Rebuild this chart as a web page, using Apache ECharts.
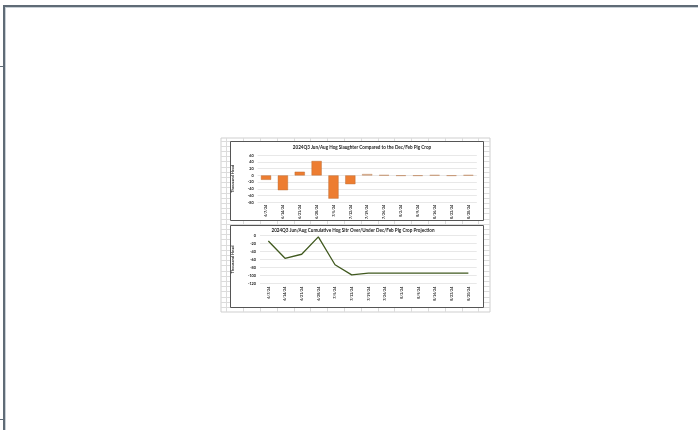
<!DOCTYPE html>
<html>
<head>
<meta charset="utf-8">
<script src="https://cdn.jsdelivr.net/npm/echarts@6/dist/echarts.min.js"></script>
<style>
html,body{margin:0;padding:0;background:#fff;}
#c{width:698px;height:430px;}
</style>
</head>
<body>
<div id="c"></div>
<script>
const categories = ['6/7/24','6/14/24','6/21/24','6/28/24','7/5/24','7/12/24','7/19/24','7/26/24','8/2/24','8/9/24','8/16/24','8/23/24','8/30/24'];
const weeklyDiff = [-13, -44, 11, 43, -69, -26, 4, 1, -1, -1, 1, -1, 1];
const cumulativeDiff = [-14, -57, -47, -4, -73, -98, -94, -94, -94, -94, -94, -94, -94];
const actualWeeks = 6;
const topTitle = '2024Q3 Jun/Aug Hog Slaughter Compared to the Dec/Feb Pig Crop';
const bottomTitle = '2024Q3 Jun/Aug Cumulative Hog Sltr Over/Under Dec/Feb Pig Crop Projection';
const yName = 'Thousand Head';

const FONT = 'Lato, "Liberation Sans", sans-serif';
const TXT = '#1a1a1a';

// spreadsheet cell gridlines (decoration)
const sheet = {x0: 221, x1: 490, y0: 138, y1: 312};
const deco = [];
deco.push({type:'rect', z:-20, shape:{x:sheet.x0, y:sheet.y0, width:sheet.x1-sheet.x0, height:sheet.y1-sheet.y0}, style:{fill:'#fff', stroke:'#cfcfcf', lineWidth:1}});
for (let y = sheet.y0 + 2.6; y < sheet.y1; y += 5.2) {
  deco.push({type:'line', z:-19, shape:{x1:sheet.x0, y1:Math.round(y)+0.5, x2:sheet.x1, y2:Math.round(y)+0.5}, style:{stroke:'#dcdcdc', lineWidth:1}});
}
for (let x = 226.4; x < sheet.x1; x += 16.8) {
  deco.push({type:'line', z:-19, shape:{x1:Math.round(x)+0.5, y1:sheet.y0, x2:Math.round(x)+0.5, y2:sheet.y1}, style:{stroke:'#dcdcdc', lineWidth:1}});
}
// chart boxes
deco.push({type:'rect', z:-10, shape:{x:230.5, y:141.5, width:253, height:79}, style:{fill:'#fff', stroke:'#555', lineWidth:1}});
deco.push({type:'rect', z:-10, shape:{x:230.5, y:225.5, width:253, height:82}, style:{fill:'#fff', stroke:'#555', lineWidth:1}});
// page frame
deco.push({type:'rect', z:-5, shape:{x:3, y:5, width:695, height:2}, style:{fill:'#5f6b76'}});
deco.push({type:'rect', z:-5, shape:{x:3, y:7, width:695, height:1}, style:{fill:'#c9d0d6'}});
deco.push({type:'rect', z:-5, shape:{x:3, y:5, width:2, height:425}, style:{fill:'#5f6b76'}});
deco.push({type:'rect', z:-5, shape:{x:5, y:8, width:1, height:422}, style:{fill:'#c9d0d6'}});
deco.push({type:'rect', z:-5, shape:{x:0, y:66, width:3, height:1}, style:{fill:'#5f6b76'}});
deco.push({type:'rect', z:-5, shape:{x:0, y:419, width:3, height:1}, style:{fill:'#5f6b76'}});
// titles
deco.push({type:'text', z:5, x:362, y:148, style:{text:topTitle, font:'bold 4.6px ' + FONT, fill:TXT, textAlign:'center', textVerticalAlign:'middle'}});
deco.push({type:'text', z:5, x:353, y:230.5, style:{text:bottomTitle, font:'bold 4.6px ' + FONT, fill:TXT, textAlign:'center', textVerticalAlign:'middle'}});

const axisLabelX = {fontSize:3.7, color:TXT, fontFamily:FONT, fontWeight:'bold', rotate:90, interval:0};
const axisLabelY = {fontSize:3.8, color:TXT, fontFamily:FONT, fontWeight:'bold'};

const chart = echarts.init(document.getElementById('c'), null, {renderer:'canvas'});
chart.setOption({
  animation:false,
  backgroundColor:'#fff',
  graphic: deco,
  grid:[
    {left:257.6, top:155.3, width:219.2, height:47, containLabel:false},
    {left:260, top:235.3, width:216.7, height:48.4, containLabel:false}
  ],
  xAxis:[
    {gridIndex:0, type:'category', data:categories, axisLine:{show:false}, axisTick:{show:false}, axisLabel:Object.assign({margin:2.5}, axisLabelX)},
    {gridIndex:1, type:'category', data:categories, axisLine:{show:false}, axisTick:{show:false}, axisLabel:Object.assign({margin:3}, axisLabelX)}
  ],
  yAxis:[
    {gridIndex:0, type:'value', min:-80, max:60, interval:20, axisLine:{show:false}, axisTick:{show:false},
     axisLabel:Object.assign({margin:4}, axisLabelY), splitLine:{lineStyle:{color:'#d9d9d9', width:0.6}},
     name:yName, nameLocation:'middle', nameRotate:90, nameGap:22.5, nameTextStyle:{fontSize:4, fontWeight:'bold', color:TXT, fontFamily:FONT}},
    {gridIndex:1, type:'value', min:-120, max:0, interval:20, axisLine:{show:false}, axisTick:{show:false},
     axisLabel:Object.assign({margin:4}, axisLabelY), splitLine:{lineStyle:{color:'#d9d9d9', width:0.6}},
     name:yName, nameLocation:'middle', nameRotate:90, nameGap:25, nameTextStyle:{fontSize:4, fontWeight:'bold', color:TXT, fontFamily:FONT}}
  ],
  series:[
    {type:'bar', xAxisIndex:0, yAxisIndex:0, data:weeklyDiff, barWidth:'60%',
     itemStyle:{color:function(p){return p.dataIndex < actualWeeks ? '#ED7D31' : '#E3CBB6';},
                borderColor:'#B0652E', borderWidth:0.4}},
    {type:'line', xAxisIndex:1, yAxisIndex:1, data:cumulativeDiff, symbol:'none',
     lineStyle:{color:'#40591F', width:1.3}}
  ]
});
</script>
</body>
</html>
